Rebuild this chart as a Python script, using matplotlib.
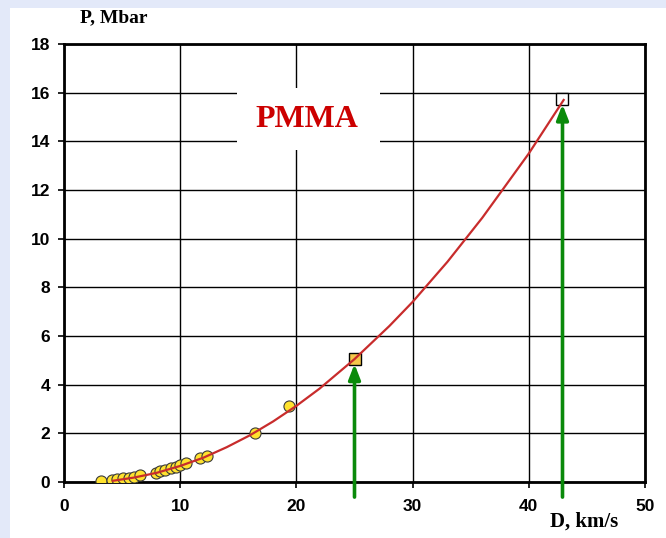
import matplotlib
matplotlib.use("Agg")
import matplotlib.pyplot as plt
from matplotlib.patches import Rectangle

# ---- data ----
exp_D = [3.2, 4.1, 4.6, 5.1, 5.6, 6.0, 6.5, 7.9, 8.3, 8.7, 9.2, 9.6, 10.0, 10.5, 11.7, 12.3, 16.4, 19.4]
exp_P = [0.05, 0.08, 0.12, 0.15, 0.18, 0.22, 0.30, 0.38, 0.44, 0.50, 0.57, 0.63, 0.70, 0.80, 0.98, 1.08, 2.00, 3.12]

fit_D = [4.2, 6, 8, 10, 12, 14, 16, 18, 20, 22, 25, 28, 30, 33, 36, 40, 43]
fit_P = [0.05, 0.18, 0.38, 0.66, 1.00, 1.43, 1.92, 2.49, 3.13, 3.84, 5.05, 6.41, 7.40, 9.05, 10.86, 13.50, 15.70]

pt_D = [25.0, 42.9]
pt_P = [5.05, 15.72]

x_ticks = [0, 10, 20, 30, 40, 50]
y_ticks = [0, 2, 4, 6, 8, 10, 12, 14, 16, 18]

W, H = 666, 538
fig = plt.figure(figsize=(W / 100, H / 100), dpi=100)
fig.patch.set_facecolor("#e3e9f9")
bg = Rectangle((10 / W, 0), 1 - 10 / W, 1 - 8 / H, transform=fig.transFigure,
               facecolor="white", edgecolor="none", zorder=-10)
fig.patches.append(bg)

ax = fig.add_axes([64 / W, 1 - 482 / H, (645 - 64) / W, (482 - 44) / H])
ax.set_zorder(5)
ax.set_facecolor("white")
ax.set_xlim(0, 50)
ax.set_ylim(0, 18)
ax.set_xticks(x_ticks)
ax.set_yticks(y_ticks)
ax.grid(True, color="black", linewidth=1.0, zorder=1)
ax.set_axisbelow(True)
for s in ax.spines.values():
    s.set_linewidth(2.0)
    s.set_color("black")
ax.tick_params(axis="both", direction="out", length=4, width=1.2, colors="black",
               top=False, right=False)
ax.tick_params(axis="x", pad=8)
ax.tick_params(axis="y", pad=6)
for lab in ax.get_xticklabels() + ax.get_yticklabels():
    lab.set_fontfamily("Liberation Sans")
    lab.set_fontweight("bold")
    lab.set_fontsize(12.5)

# experimental points
ax.plot(exp_D, exp_P, linestyle="none", marker="o", markersize=8,
        markerfacecolor="#ffe22e", markeredgecolor="#3a3a3a", markeredgewidth=0.8, zorder=3)

# squares
ax.plot(pt_D[0], pt_P[0], marker="s", markersize=9, markerfacecolor="#f5c74a",
        markeredgecolor="black", markeredgewidth=1.0, linestyle="none", zorder=3)
ax.plot(pt_D[1], pt_P[1], marker="s", markersize=9, markerfacecolor="white",
        markeredgecolor="black", markeredgewidth=1.0, linestyle="none", zorder=3)

# fit curve
ax.plot(fit_D, fit_P, color="#c82c2c", linewidth=1.6, zorder=4)

# arrows
for d, p in zip(pt_D, pt_P):
    ax.annotate("", xy=(d, p - 0.2), xytext=(d, -0.62), xycoords="data", textcoords="data",
                arrowprops=dict(arrowstyle="-|>,head_length=0.9,head_width=0.35",
                                color="#0a8a0a", lw=2.6, shrinkA=0, shrinkB=0),
                annotation_clip=False, zorder=5)

# PMMA label with white box
ax.add_patch(Rectangle((14.9, 13.65), 12.3, 2.55, facecolor="white", edgecolor="none", zorder=2))
ax.text(20.9, 14.9, "PMMA", color="#cc0000", fontsize=23, fontweight="bold",
        fontfamily="Liberation Serif", ha="center", va="center", zorder=6)

# axis labels
fig.text(80 / W, 1 - 18 / H, "P, Mbar", fontsize=14, fontweight="bold",
         fontfamily="Liberation Serif", ha="left", va="center", zorder=10)
fig.text(584 / W, 1 - 522 / H, "D, km/s", fontsize=15, fontweight="bold",
         fontfamily="Liberation Serif", ha="center", va="center", zorder=10)

fig.savefig("out.png", dpi=100)
